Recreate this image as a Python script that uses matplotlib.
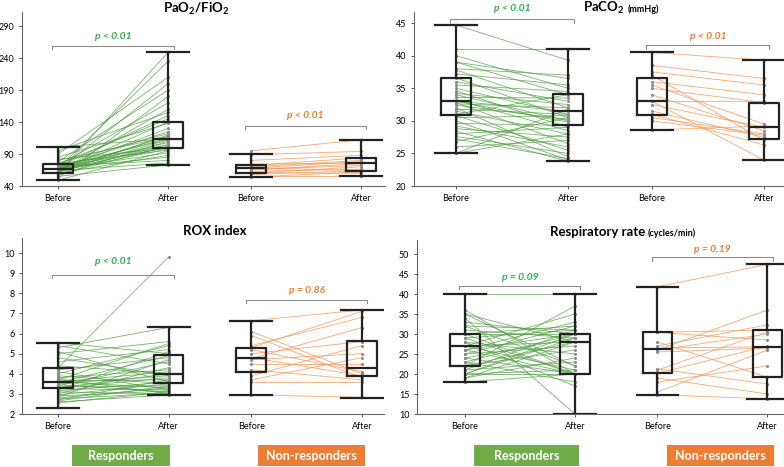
import matplotlib
matplotlib.use("Agg")
import matplotlib.pyplot as plt
from matplotlib.patches import Rectangle

plt.rcParams['font.family'] = ['Lato', 'DejaVu Sans']
plt.rcParams['mathtext.default'] = 'regular'

W, H = 784, 467

GREEN_LINE = '#4a9c3c'
ORANGE_LINE = '#f39a5c'
GREEN_TXT = '#2eb24c'
ORANGE_TXT = '#f07d2c'
GREEN_BOX = '#70ad47'
ORANGE_BOX = '#ed7d31'

# 1. DONNÉES
pf_resp_before = [49, 52, 55, 57, 58, 60, 60, 61, 62, 62, 63, 63, 64, 64, 65, 65, 65, 66, 66, 66,
                  67, 67, 68, 68, 69, 70, 70, 71, 72, 73, 74, 75, 76, 78, 80, 82, 85, 90, 95, 101]
pf_resp_after = [95, 180, 73, 110, 102, 249, 88, 120, 105, 160, 98, 112, 140, 76, 118, 200, 101, 92, 130, 108,
                 115, 235, 85, 125, 100, 150, 113, 80, 170, 104, 145, 96, 122, 190, 117, 99, 138, 210, 155, 114]
pf_nr_before = [54, 56, 58, 60, 61, 63, 65, 66, 68, 69, 70, 72, 74, 80, 89, 95]
pf_nr_after = [62, 56, 64, 70, 60, 66, 75, 72, 78, 64, 80, 84, 76, 88, 94, 112]

pc_resp_before = [44.7, 41.0, 40.0, 39.0, 39.0, 38.0, 37.8, 37.2, 36.6, 36.0, 35.5, 35.0, 34.6, 34.2, 34.0,
                  33.6, 33.2, 33.0, 33.0, 32.8, 32.6, 32.4, 32.0, 31.8, 31.5, 31.0, 30.8, 30.5, 30.0, 29.6,
                  29.2, 28.8, 28.4, 28.0, 27.6, 27.2, 26.8, 26.0, 25.0, 25.0]
pc_resp_after = [39.3, 41.0, 35.0, 36.5, 34.0, 37.0, 32.0, 35.5, 30.5, 33.0, 34.5, 31.0, 29.0, 32.5, 30.0,
                 33.5, 28.5, 31.5, 29.8, 26.5, 32.0, 30.2, 24.5, 31.0, 28.0, 34.0, 25.5, 30.8, 24.0, 29.3,
                 26.0, 27.5, 23.8, 29.0, 25.0, 24.2, 30.5, 27.0, 28.0, 31.8]
pc_nr_before = [40.5, 38.5, 37.5, 37.0, 36.0, 35.5, 35.0, 34.0, 33.0, 33.0, 32.5, 31.5, 31.0, 30.5, 30.0, 28.6]
pc_nr_after = [39.3, 36.5, 35.5, 27.0, 34.0, 29.5, 32.8, 28.5, 33.0, 24.0, 29.0, 27.5, 26.3, 28.0, 27.8, 29.2]

rox_resp_before = [5.55, 5.4, 5.3, 5.1, 5.0, 4.8, 4.6, 4.4, 4.3, 4.2, 4.1, 4.0, 3.9, 3.8, 3.75, 3.7, 3.65,
                   3.6, 3.6, 3.55, 3.5, 3.45, 3.4, 3.35, 3.3, 3.3, 3.25, 3.2, 3.15, 3.1, 3.0, 2.95, 2.9,
                   2.85, 2.8, 2.75, 2.7, 2.65, 2.6, 2.55]
rox_resp_after = [5.0, 4.5, 6.3, 3.6, 5.6, 3.9, 5.2, 4.0, 9.8, 4.8, 3.2, 5.4, 3.5, 4.2, 3.0, 5.5, 3.7,
                  4.1, 3.3, 4.9, 3.9, 3.1, 4.6, 3.4, 4.0, 3.8, 3.2, 5.1, 3.6, 3.0, 4.3, 3.5, 3.15,
                  4.7, 3.3, 3.05, 3.7, 3.4, 2.95, 3.1]
rox_nr_before = [6.64, 6.1, 5.9, 5.4, 5.3, 5.2, 5.0, 4.8, 4.75, 4.7, 4.5, 4.2, 3.9, 3.7, 3.6, 2.95]
rox_nr_after = [7.17, 4.0, 3.8, 6.8, 7.1, 4.1, 5.6, 3.9, 6.3, 5.0, 4.5, 3.7, 5.4, 4.8, 3.6, 2.83]

rr_resp_before = [40, 36, 35, 34, 33, 32, 31, 30, 30, 29, 29, 28, 28, 27, 27, 27, 26, 26, 25, 25,
                  24, 24, 23, 23, 22, 22, 22, 21, 21, 20, 20, 20, 20, 19, 19, 35, 32, 26, 18, 30]
rr_resp_after = [40, 20, 28, 10, 30, 22, 29, 20, 32, 20, 31, 17, 25, 35, 21, 28, 30, 20, 32, 27,
                 20, 29, 30, 18, 28, 26, 37, 31, 23, 20, 30, 29, 21, 28, 24, 22, 31, 33, 20, 30]
rr_nr_before = [41.8, 30.4, 30.4, 28.0, 27.0, 26.5, 26.0, 26.0, 25.5, 21.3, 21.0, 20.2, 19.0, 18.0, 15.5, 14.8]
rr_nr_after = [47.4, 31.0, 28.5, 19.2, 32.3, 26.8, 36.0, 30.0, 26.5, 17.5, 30.5, 27.0, 15.0, 22.0, 26.0, 13.8]

# boîtes : (min, q1, médiane, q3, max) pour Resp-avant, Resp-après, NR-avant, NR-après
pf_boxes = [(49, 61, 66, 74, 101), (73, 100, 114, 140, 249), (54, 61, 68, 73, 89.5), (56, 64, 75.5, 83, 112)]
pc_boxes = [(25, 30.9, 33, 36.6, 44.7), (23.8, 29.3, 31.5, 34.1, 41), (28.6, 30.9, 33, 36.5, 40.5), (24, 27.2, 29, 32.8, 39.3)]
rox_boxes = [(2.3, 3.28, 3.6, 4.3, 5.55), (2.95, 3.53, 4.0, 4.94, 6.34), (2.93, 4.09, 4.77, 5.3, 6.64), (2.8, 3.89, 4.3, 5.63, 7.17)]
rr_boxes = [(18, 22, 27, 30, 40), (10, 20, 28, 30, 40), (14.8, 20.2, 26.3, 30.4, 41.8), (13.8, 19.2, 26.8, 31, 47.4)]

p_green = ['p < 0.01', 'p < 0.01', 'p < 0.01', 'p = 0.09']
p_orange = ['p < 0.01', 'p < 0.01', 'p = 0.86', 'p = 0.19']
tick_labels = ['Before', 'After', 'Before', 'After']

# 2. MISE EN PAGE (pixels)
positions = [1, 2, 2.75, 3.75]
panels = [
    dict(rect=(22, 12, 385, 186), xlim=(0.673, 3.97), ylim=(40, 312), yticks=range(40, 291, 50),
         data=(pf_resp_before, pf_resp_after, pf_nr_before, pf_nr_after), boxes=pf_boxes,
         brackets=(259, 274, 134, 150)),
    dict(rect=(414, 12, 784, 186), xlim=(0.625, 3.93), ylim=(20, 46.7), yticks=range(20, 46, 5),
         data=(pc_resp_before, pc_resp_after, pc_nr_before, pc_nr_after), boxes=pc_boxes,
         brackets=(45.6, 47.2, 41.6, 43.0)),
    dict(rect=(22, 238, 384, 414), xlim=(0.674, 3.95), ylim=(2, 10.75), yticks=range(2, 11),
         data=(rox_resp_before, rox_resp_after, rox_nr_before, rox_nr_after), boxes=rox_boxes,
         brackets=(8.92, 9.6, 7.67, 8.13)),
    dict(rect=(417, 240, 784, 414), xlim=(0.564, 3.9), ylim=(10, 53.5), yticks=range(10, 51, 5),
         data=(rr_resp_before, rr_resp_after, rr_nr_before, rr_nr_after), boxes=rr_boxes,
         brackets=(42, 44.1, 49.2, 51.2)),
]

fig = plt.figure(figsize=(W / 100, H / 100), dpi=100)

for i, p in enumerate(panels):
    l, t, r, b = p['rect']
    ax = fig.add_axes([l / W, 1 - b / H, (r - l) / W, (b - t) / H])
    rb, ra, nb, na = p['data']

    for y0, y1 in zip(rb, ra):
        ax.plot(positions[:2], [y0, y1], color=GREEN_LINE, lw=0.6, alpha=0.75, zorder=1)
    for y0, y1 in zip(nb, na):
        ax.plot(positions[2:], [y0, y1], color=ORANGE_LINE, lw=0.6, alpha=0.85, zorder=1)
    for pos, vals in zip(positions, p['data']):
        ax.plot([pos] * len(vals), vals, 'o', ms=1.2, color='#8a8a8a', zorder=2)

    stats = [dict(whislo=s[0], q1=s[1], med=s[2], q3=s[3], whishi=s[4], fliers=[]) for s in p['boxes']]
    ax.bxp(stats, positions=positions, widths=0.27, capwidths=0.38, showfliers=False,
           boxprops=dict(color='#222222', lw=1.6), whiskerprops=dict(color='#222222', lw=1.6),
           capprops=dict(color='#222222', lw=1.6), medianprops=dict(color='#222222', lw=1.6),
           zorder=3)

    ax.set_xlim(p['xlim'])
    ax.set_ylim(p['ylim'])
    ax.set_yticks(list(p['yticks']))
    ax.set_xticks(positions)
    ax.set_xticklabels(tick_labels)
    ax.tick_params(labelsize=6.5, length=2.5, width=0.7, color='#555555', pad=3)
    for s in ['top', 'right']:
        ax.spines[s].set_visible(False)
    for s in ['left', 'bottom']:
        ax.spines[s].set_color('#666666')
        ax.spines[s].set_linewidth(0.8)

    # crochets + p-values
    yr = p['ylim'][1] - p['ylim'][0]
    d = 0.02 * yr
    gb, gt, ob, ot = p['brackets']
    for (x0, x1), yb, yt, txt, c in [((positions[0], positions[1]), gb, gt, p_green[i], GREEN_TXT),
                                      ((positions[2], positions[3]), ob, ot, p_orange[i], ORANGE_TXT)]:
        ax.plot([x0 - 0.05, x0 - 0.05, x1 + 0.05, x1 + 0.05], [yb - d, yb, yb, yb - d],
                color='#8c8c8c', lw=0.8, clip_on=False, zorder=4)
        ax.text((x0 + x1) / 2, yt, txt, color=c, fontsize=7.5, fontweight='bold', fontstyle='italic',
                ha='center', va='center', clip_on=False)

# titres
fig.text(196 / W, 1 - 9 / H, 'PaO$_2$/FiO$_2$', fontsize=9.5, fontweight='bold', ha='center', va='center')
fig.text(625 / W, 1 - 8 / H, 'PaCO$_2$', fontsize=9.5, fontweight='bold', ha='right', va='center')
fig.text(628 / W, 1 - 9 / H, '(mmHg)', fontsize=6.5, fontweight='bold', ha='left', va='center')
fig.text(215 / W, 1 - 231 / H, 'ROX index', fontsize=9.5, fontweight='bold', ha='center', va='center')
fig.text(645 / W, 1 - 232 / H, 'Respiratory rate', fontsize=9.5, fontweight='bold', ha='right', va='center')
fig.text(648 / W, 1 - 233 / H, '(cycles/min)', fontsize=6.5, fontweight='bold', ha='left', va='center')

# étiquettes de groupe
for x0, x1, label, col in [(72, 170, 'Responders', GREEN_BOX), (258, 365, 'Non-responders', ORANGE_BOX),
                           (474, 579, 'Responders', GREEN_BOX), (667, 774, 'Non-responders', ORANGE_BOX)]:
    fig.add_artist(Rectangle((x0 / W, 1 - 466 / H), (x1 - x0) / W, 21 / H, transform=fig.transFigure,
                             facecolor=col, edgecolor='none'))
    fig.text((x0 + x1) / 2 / W, 1 - 455.5 / H, label, color='white', fontsize=9, fontweight='bold',
             ha='center', va='center')

fig.savefig('out.png', dpi=100)
